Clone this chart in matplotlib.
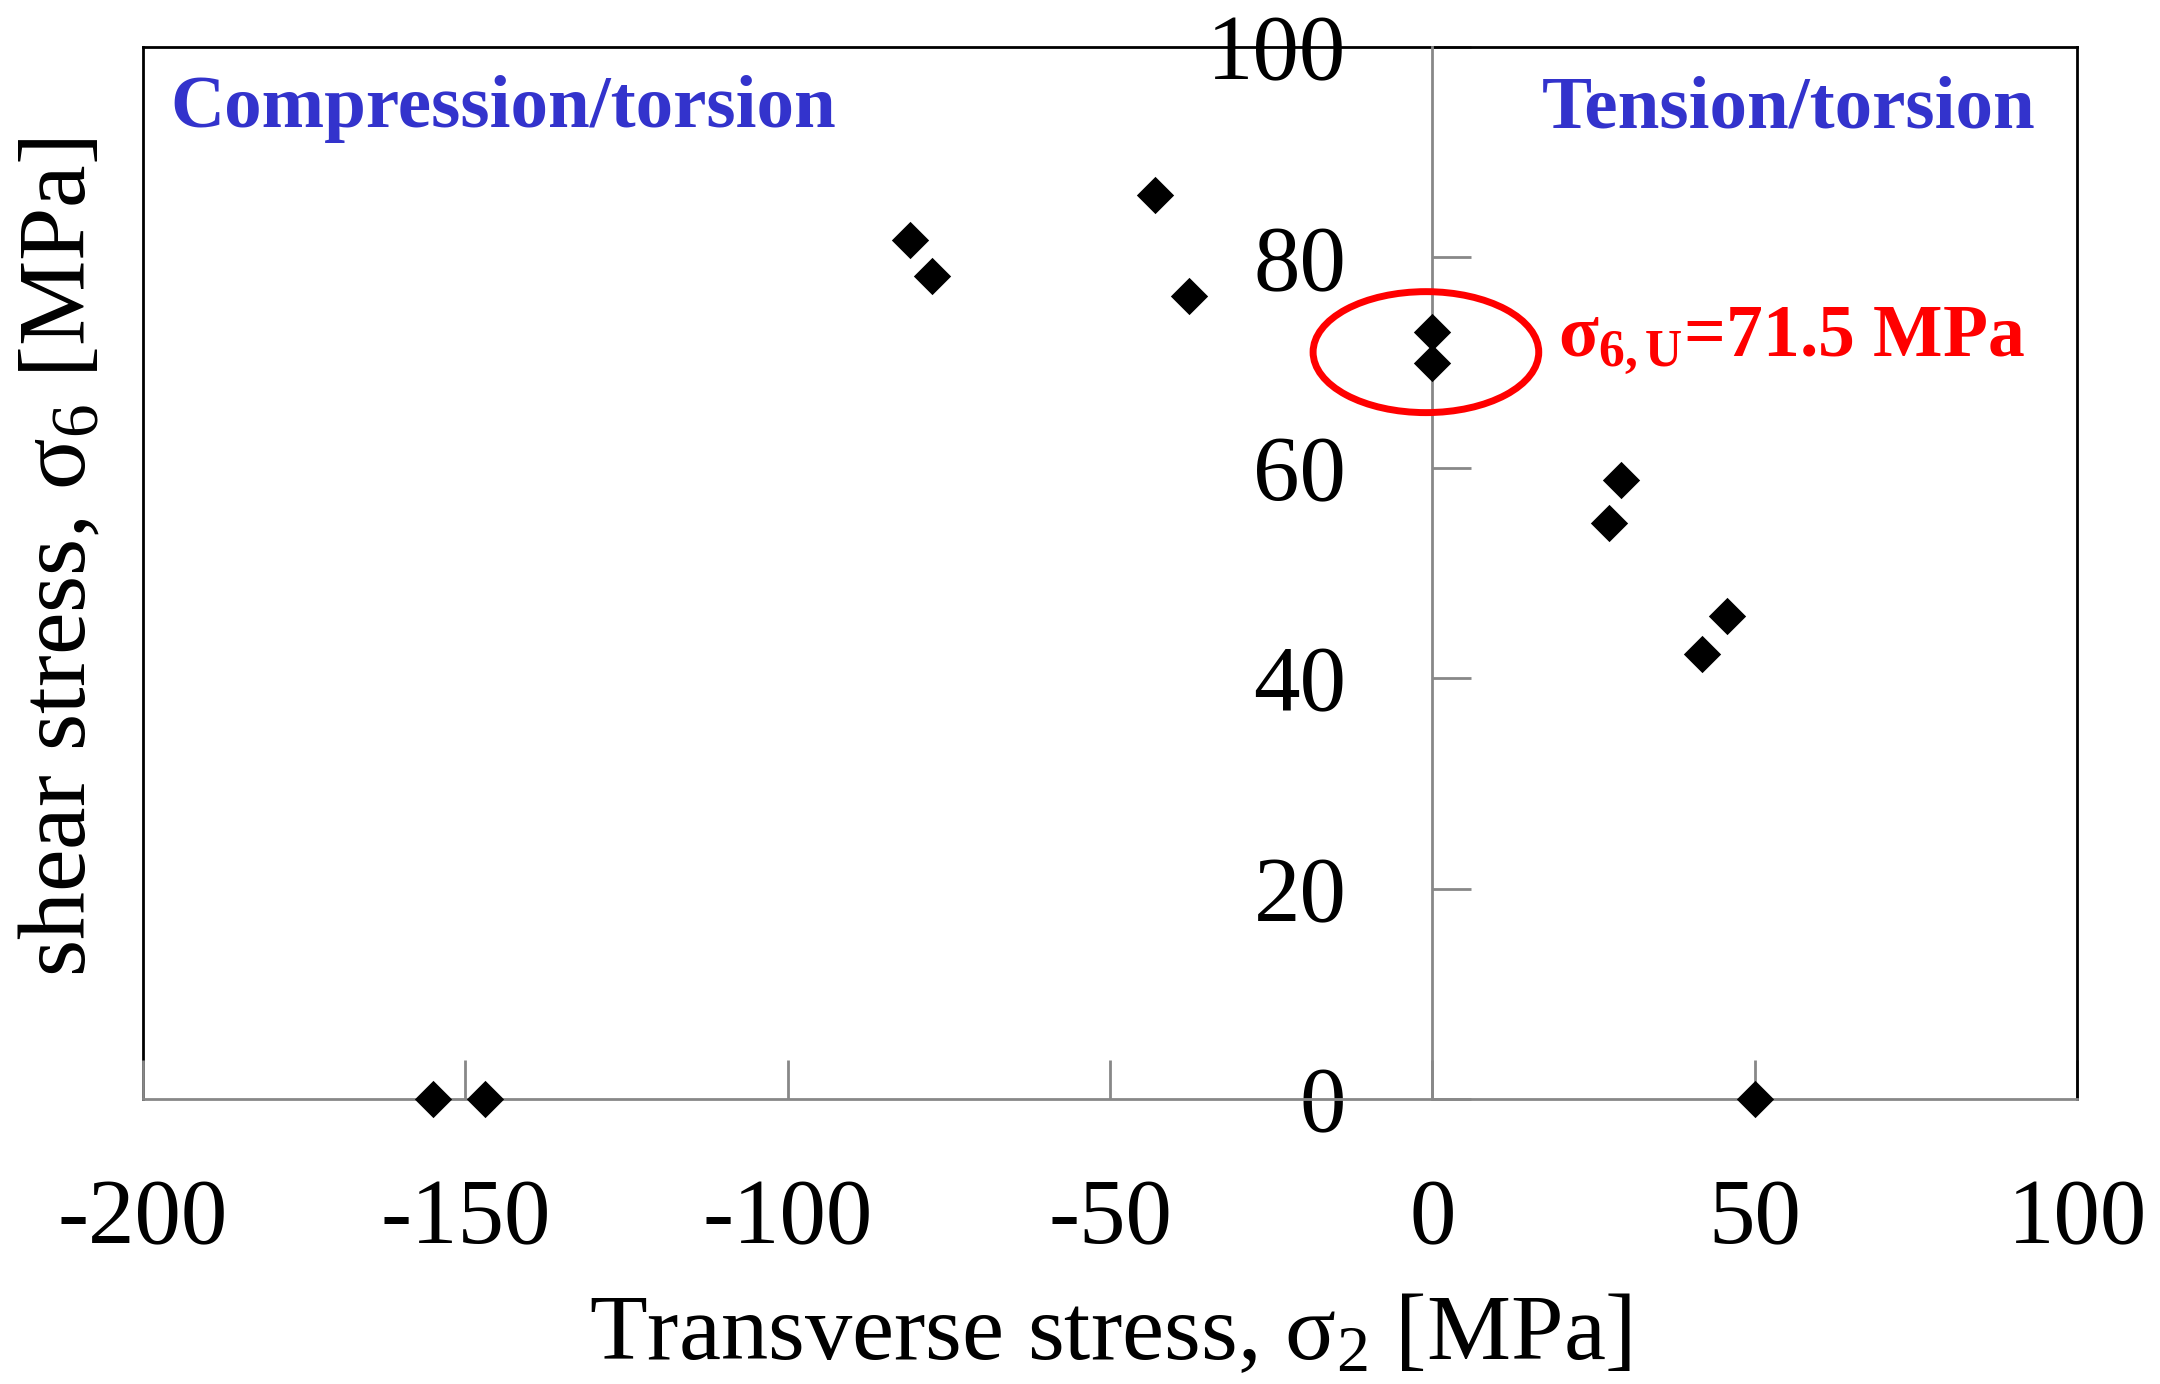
import matplotlib
matplotlib.use("Agg")
import matplotlib.pyplot as plt
from matplotlib.patches import Ellipse

plt.rcParams['font.family'] = ['Liberation Serif', 'DejaVu Serif']
plt.rcParams['mathtext.fontset'] = 'custom'
plt.rcParams['mathtext.rm'] = 'Liberation Serif'
plt.rcParams['mathtext.bf'] = 'Liberation Serif:bold'
plt.rcParams['mathtext.it'] = 'Liberation Serif:italic'
plt.rcParams['axes.unicode_minus'] = False

# transverse stress sigma_2 and shear stress sigma_6 [MPa]
sigma2 = [-155, -147, 50, -81, -77.6, -43, -37.8, 0, 0, 29.2, 27.4, 45.7, 41.9]
sigma6 = [0, 0, 0, 81.7, 78.2, 85.9, 76.3, 72.9, 70.0, 58.8, 54.8, 45.9, 42.3]

x_ticks = [-200, -150, -100, -50, 0, 50, 100]
y_ticks = [0, 20, 40, 60, 80, 100]

fig = plt.figure(figsize=(21.6, 13.84), dpi=100)
ax = fig.add_axes([0.0662, 0.2059, 0.8954, 0.7601])

ax.scatter(sigma2, sigma6, marker="D", s=19**2, color="black", linewidths=0, zorder=4, clip_on=False)

ax.set_xlim(-200, 100)
ax.set_ylim(0, 100)
ax.set_xticks(x_ticks)
ax.set_yticks(y_ticks)

# axes through the origin in grey, black frame around
ax.spines['left'].set_position(('data', 0))
ax.spines['bottom'].set_position(('data', 0))
for s in ['left', 'bottom']:
    ax.spines[s].set_color("#888888")
    ax.spines[s].set_linewidth(2)
    ax.spines[s].set_zorder(3)
for s in ['top', 'right']:
    ax.spines[s].set_color("black")
    ax.spines[s].set_linewidth(2)
ax.axvline(-200, color="black", lw=2, zorder=1, clip_on=False)

ax.tick_params(direction="in", length=28, width=2, color="#888888", labelsize=67)
ax.tick_params(axis="x", pad=57)
ax.tick_params(axis="y", pad=62)

ell = Ellipse((-1, 71), 35, 11.5, fill=False, edgecolor="red", lw=5, zorder=5)
ax.add_patch(ell)
ax.text(19.5, 70.7, r"$\mathbf{σ_{6,U}}$=71.5 MPa", color="red", fontsize=53,
        fontweight="bold", va="baseline", ha="left")

ax.text(-195.7, 92.4, "Compression/torsion", color="#3333CC", fontsize=54, fontweight="bold", va="baseline")
ax.text(93.5, 92.4, "Tension/torsion", color="#3333CC", fontsize=54, fontweight="bold", va="baseline", ha="right")

ax.set_xlabel(r"Transverse stress, $\mathrm{σ_2}$ [MPa]", fontsize=68, labelpad=22)
fig.text(0.029, 0.597, r"shear stress, $\mathrm{σ_6}$ [MPa]", fontsize=69, rotation=90, ha="center", va="center")

fig.savefig("out.png", dpi=100)
